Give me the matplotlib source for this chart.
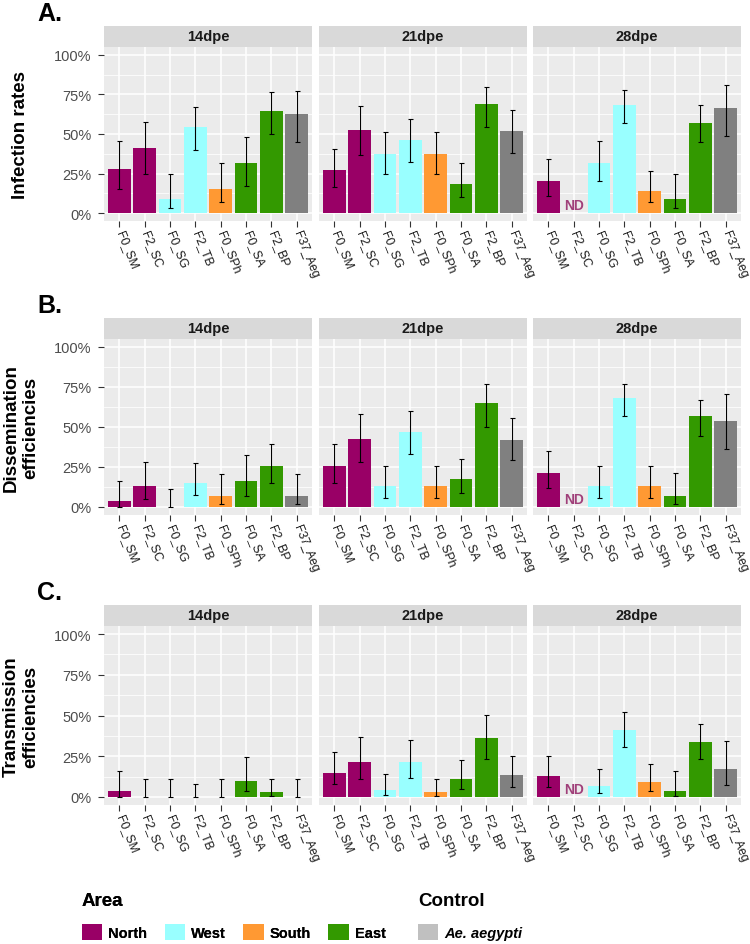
import numpy as np
import matplotlib
matplotlib.use("Agg")
import matplotlib.pyplot as plt
from matplotlib.patches import Patch

plt.rcParams["font.family"] = ["Liberation Sans", "DejaVu Sans"]

strains = ["F0_SM", "F2_SC", "F0_SG", "F2_TB", "F0_SPh", "F0_SA", "F2_BP", "F37_Aeg"]
areas = ["North", "North", "West", "West", "South", "East", "East", "Control"]
days = ["14dpe", "21dpe", "28dpe"]
nd = np.nan  # not determined

# one row per day (14, 21, 28 dpe), one value per strain
infection = [
    [0.28, 0.41, 0.09, 0.545, 0.155, 0.315, 0.645, 0.625],
    [0.27, 0.523, 0.373, 0.46, 0.373, 0.184, 0.689, 0.517],
    [0.206, nd, 0.318, 0.682, 0.142, 0.089, 0.57, 0.667],
]
infection_lo = [
    [0.15, 0.25, 0.03, 0.40, 0.068, 0.174, 0.50, 0.45],
    [0.163, 0.367, 0.246, 0.322, 0.246, 0.10, 0.547, 0.38],
    [0.11, nd, 0.2, 0.57, 0.068, 0.03, 0.45, 0.487],
]
infection_hi = [
    [0.455, 0.576, 0.244, 0.67, 0.318, 0.483, 0.763, 0.769],
    [0.405, 0.676, 0.51, 0.593, 0.51, 0.318, 0.80, 0.65],
    [0.339, nd, 0.453, 0.778, 0.269, 0.244, 0.682, 0.807],
]

dissemination = [
    [0.038, 0.13, 0.0, 0.151, 0.067, 0.161, 0.254, 0.067],
    [0.254, 0.423, 0.13, 0.467, 0.13, 0.172, 0.652, 0.417],
    [0.214, nd, 0.13, 0.681, 0.13, 0.067, 0.566, 0.537],
]
dissemination_lo = [
    [0.003, 0.052, 0.0, 0.073, 0.019, 0.067, 0.151, 0.019],
    [0.151, 0.28, 0.057, 0.329, 0.057, 0.09, 0.50, 0.293],
    [0.12, nd, 0.057, 0.566, 0.057, 0.019, 0.444, 0.363],
]
dissemination_hi = [
    [0.161, 0.283, 0.111, 0.275, 0.205, 0.323, 0.394, 0.205],
    [0.394, 0.58, 0.254, 0.597, 0.254, 0.30, 0.77, 0.558],
    [0.35, nd, 0.254, 0.77, 0.254, 0.21, 0.671, 0.706],
]

transmission = [
    [0.039, 0.0, 0.0, 0.0, 0.0, 0.097, 0.027, 0.0],
    [0.149, 0.215, 0.041, 0.215, 0.027, 0.107, 0.36, 0.132],
    [0.13, nd, 0.066, 0.411, 0.089, 0.039, 0.337, 0.169],
]
transmission_lo = [
    [0.002, 0.0, 0.0, 0.0, 0.0, 0.037, 0.008, 0.0],
    [0.078, 0.107, 0.012, 0.116, 0.008, 0.048, 0.233, 0.058],
    [0.06, nd, 0.023, 0.304, 0.033, 0.004, 0.233, 0.074],
]
transmission_hi = [
    [0.16, 0.11, 0.11, 0.077, 0.11, 0.248, 0.11, 0.11],
    [0.277, 0.366, 0.143, 0.347, 0.112, 0.225, 0.502, 0.254],
    [0.254, nd, 0.169, 0.523, 0.2, 0.161, 0.446, 0.343],
]

area_colors = {"North": "#990066", "West": "#99FFFF", "South": "#FF9933",
               "East": "#339900", "Control": "#808080"}

rows = [
    ("A.", "Infection rates", infection, infection_lo, infection_hi),
    ("B.", "Dissemination\nefficiencies", dissemination, dissemination_lo, dissemination_hi),
    ("C.", "Transmission\nefficiencies", transmission, transmission_lo, transmission_hi),
]

W, H = 750, 945
fig = plt.figure(figsize=(W / 100, H / 100), dpi=100)


def box(x0, y0, x1, y1):
    # pixel box (top-left origin) -> figure fraction rect
    return [x0 / W, 1 - y1 / H, (x1 - x0) / W, (y1 - y0) / H]


strip_tops = [27, 319, 606]
plot_tops = [48, 340, 627]
plot_bots = [222, 516, 806]
col_lefts = [104, 319, 533]
col_w = 208

x = np.arange(len(strains))
colors = [area_colors[a] for a in areas]
narrow = ["Liberation Sans Narrow", "Liberation Sans", "DejaVu Sans"]

for r, (letter, ylabel, vals, lo, hi) in enumerate(rows):
    for c, day in enumerate(days):
        x0 = col_lefts[c]
        ax = fig.add_axes(box(x0, plot_tops[r], x0 + col_w, plot_bots[r]))
        ax.set_facecolor("#EBEBEB")
        ax.set_axisbelow(True)
        v = np.array(vals[c], dtype=float)
        l = np.array(lo[c], dtype=float)
        h = np.array(hi[c], dtype=float)
        ok = ~np.isnan(v)
        ax.bar(x[ok], v[ok], width=0.9, color=np.array(colors)[ok], linewidth=0, zorder=2)
        ax.errorbar(x[ok], v[ok], yerr=[v[ok] - l[ok], h[ok] - v[ok]], fmt="none",
                    ecolor="black", elinewidth=0.8, capsize=1.8, capthick=0.8, zorder=3)
        for i in np.where(~ok)[0]:
            ax.text(x[i], 0.05, "ND", color="#a0407a", fontsize=10, fontweight="bold",
                    ha="center", va="center", zorder=3)

        ax.set_xlim(-0.6, len(strains) - 0.4)
        ax.set_ylim(-0.05, 1.05)
        ax.set_yticks([0, 0.25, 0.5, 0.75, 1.0])
        ax.set_yticks([0.125, 0.375, 0.625, 0.875], minor=True)
        ax.set_xticks(x)
        ax.grid(which="major", color="white", linewidth=1.1)
        ax.grid(which="minor", axis="y", color="white", linewidth=0.55)
        for s in ax.spines.values():
            s.set_visible(False)
        ax.tick_params(which="minor", length=0)
        ax.tick_params(which="major", length=4, width=0.8, color="#333333", pad=2)
        ax.tick_params(axis="y", pad=5)
        ax.set_xticklabels(strains, rotation=-68, ha="left", va="center",
                           rotation_mode="anchor", fontsize=8.8, color="#1A1A1A",
                           family=narrow)
        for t in ax.get_xticklabels():
            t.set_y(-0.01)
        if c == 0:
            ax.set_yticklabels(["0%", "25%", "50%", "75%", "100%"], fontsize=10.5,
                               color="#4D4D4D")
        else:
            ax.tick_params(axis="y", which="both", left=False, labelleft=False)

        sax = fig.add_axes(box(x0, strip_tops[r], x0 + col_w, plot_tops[r]))
        sax.set_facecolor("#D9D9D9")
        sax.set_xticks([])
        sax.set_yticks([])
        for s in sax.spines.values():
            s.set_visible(False)
        sax.text(0.5, 0.5, day, ha="center", va="center", fontsize=10.5,
                 fontweight="bold", color="#1A1A1A", transform=sax.transAxes)

    fig.text(37 / W, 1 - (strip_tops[r] - 13) / H, letter, fontsize=18,
             fontweight="bold", ha="left", va="center")
    fig.text(21 / W, 1 - ((plot_tops[r] + plot_bots[r]) / 2) / H, ylabel, rotation=90,
             fontsize=13.5, fontweight="bold", ha="center", va="center",
             multialignment="center", linespacing=1.15)

area_names = ["North", "West", "South", "East"]
area_handles = [Patch(facecolor=area_colors[a], edgecolor="none") for a in area_names]
leg1 = fig.legend(area_handles, area_names, title="Area", ncol=4,
                  loc="upper left", bbox_to_anchor=(82 / W, 1 - 893 / H),
                  frameon=False, borderpad=0, borderaxespad=0,
                  handlelength=1.4, handleheight=1.4, handletextpad=0.4,
                  columnspacing=1.2, labelspacing=1.0, alignment="left",
                  prop={"size": 10.5, "weight": "bold"},
                  title_fontproperties={"size": 13.5, "weight": "bold"})
fig.add_artist(leg1)

ctrl_handles = [Patch(facecolor="#C0C0C0", edgecolor="none")]
fig.legend(ctrl_handles, ["Ae. aegypti"], title="Control", ncol=1,
           loc="upper left", bbox_to_anchor=(418 / W, 1 - 893 / H),
           frameon=False, borderpad=0, borderaxespad=0,
           handlelength=1.4, handleheight=1.4, handletextpad=0.4,
           labelspacing=1.0, alignment="left",
           prop={"size": 10.5, "weight": "bold", "style": "italic"},
           title_fontproperties={"size": 13.5, "weight": "bold"})

fig.savefig("out.png", dpi=100)
